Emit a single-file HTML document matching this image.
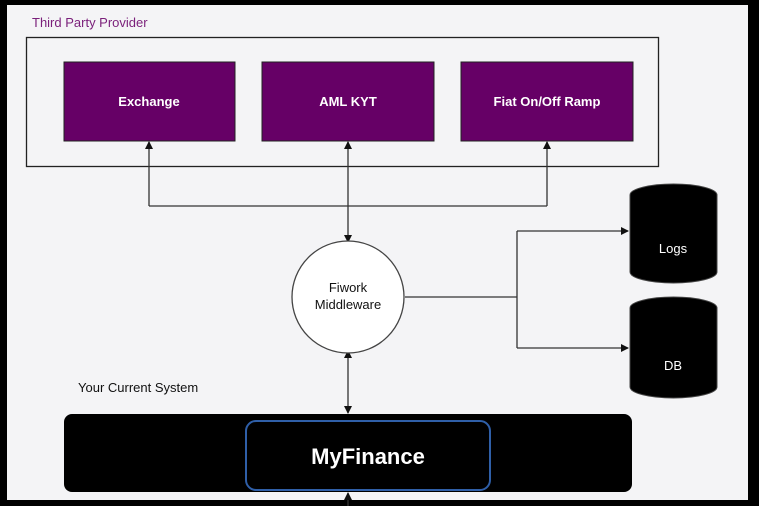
<!DOCTYPE html>
<html><head><style>
html,body{margin:0;padding:0;background:#000;}
svg{display:block;font-family:"Liberation Sans",sans-serif;}
</style></head><body>
<svg width="759" height="506" viewBox="0 0 759 506" xmlns="http://www.w3.org/2000/svg">
<defs><marker id="a" markerWidth="8" markerHeight="8" refX="7" refY="4" orient="auto-start-reverse" markerUnits="userSpaceOnUse"><path d="M0,0 L8,4 L0,8 z" fill="#111"/></marker></defs>
<rect x="0" y="0" width="759" height="506" fill="#000"/>
<rect x="7" y="5" width="741" height="495" fill="#f4f4f6"/>
<text x="32" y="27" font-size="13" fill="#7a1f7a">Third Party Provider</text>
<rect x="26.5" y="37.5" width="632" height="129" fill="none" stroke="#222" stroke-width="1.3"/>
<g fill="#660066" stroke="#222" stroke-width="1">
<rect x="64" y="62" width="171" height="79"/>
<rect x="262" y="62" width="172" height="79"/>
<rect x="461" y="62" width="172" height="79"/>
</g>
<g fill="#fff" font-size="13" font-weight="bold" text-anchor="middle">
<text x="149" y="106">Exchange</text>
<text x="348" y="106">AML KYT</text>
<text x="547" y="106">Fiat On/Off Ramp</text>
</g>
<g stroke="#333" stroke-width="1.3" fill="none">
<path d="M149,206 V142" marker-end="url(#a)"/>
<path d="M547,206 V142" marker-end="url(#a)"/>
<path d="M149,206 H547"/>
<path d="M348,142 V242" marker-start="url(#a)" marker-end="url(#a)"/>
<path d="M405,297 H517"/>
<path d="M517,231 V348"/>
<path d="M517,231 H628" marker-end="url(#a)"/>
<path d="M517,348 H628" marker-end="url(#a)"/>
<path d="M348,351 V413" marker-start="url(#a)" marker-end="url(#a)"/>
<path d="M348,506 V493" marker-end="url(#a)"/>
</g>
<circle cx="348" cy="297" r="56" fill="#fff" stroke="#444" stroke-width="1.3"/>
<text x="348" y="292" font-size="13" text-anchor="middle" fill="#111">Fiwork</text>
<text x="348" y="309" font-size="13" text-anchor="middle" fill="#111">Middleware</text>
<g fill="#000" stroke="#444" stroke-width="1">
<path d="M630,195 A43.5,11 0 0 1 717,195 V272 A43.5,11 0 0 1 630,272 Z"/>
<path d="M630,308 A43.5,11 0 0 1 717,308 V387 A43.5,11 0 0 1 630,387 Z"/>
</g>
<text x="673" y="253" font-size="13" fill="#fff" text-anchor="middle">Logs</text>
<text x="673" y="370" font-size="13" fill="#fff" text-anchor="middle">DB</text>
<text x="78" y="392" font-size="13" fill="#111">Your Current System</text>
<rect x="64" y="414" width="568" height="78" rx="8" fill="#000"/>
<rect x="246" y="421" width="244" height="69" rx="10" fill="#000" stroke="#2f5fa8" stroke-width="2"/>
<text x="368" y="464" font-size="22" font-weight="bold" fill="#fff" text-anchor="middle">MyFinance</text>
</svg>
</body></html>
